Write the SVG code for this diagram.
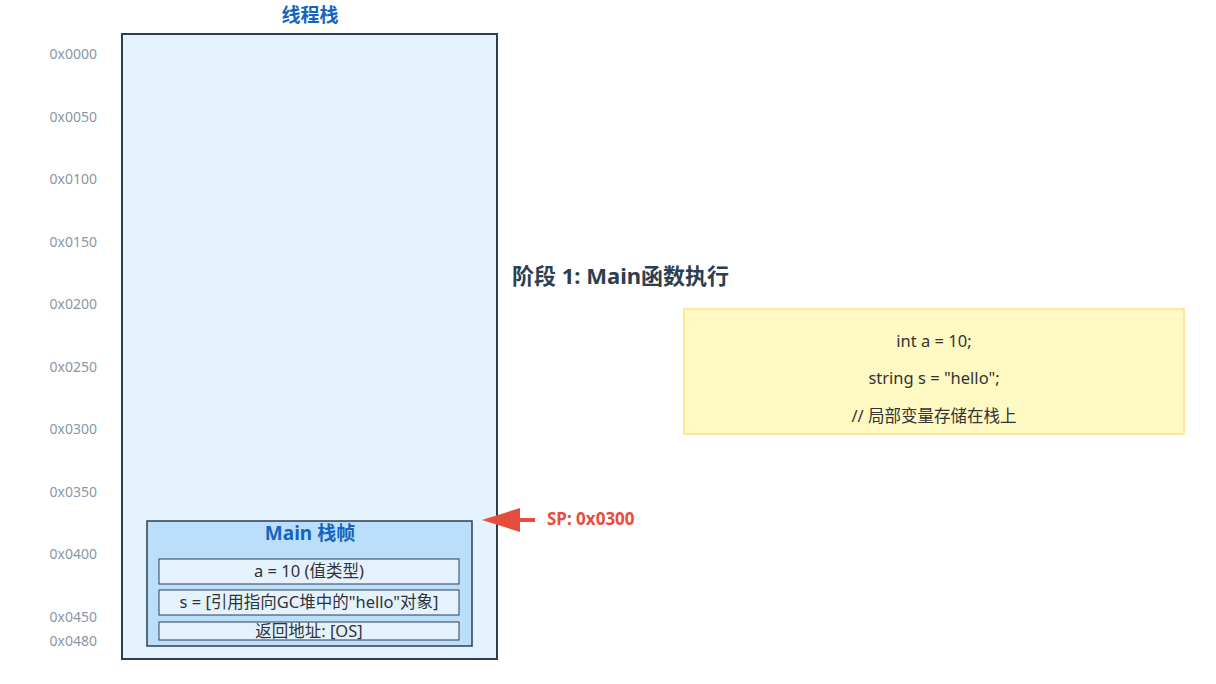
<svg xmlns="http://www.w3.org/2000/svg" width="1216" height="684" viewBox="0 0 1216 684">
<style>
text{font-family:"Noto Sans","Noto Sans CJK SC",sans-serif}
.addr{font-size:14px;fill:#8a97a6;text-anchor:end}
.title{font-size:19px;font-weight:bold;fill:#1565c0;text-anchor:middle}
.cell{fill:#e3f2fd;stroke:#2c3e50;stroke-width:1}
.ct{font-size:16.5px;fill:#333;text-anchor:middle}
.code{font-size:16.5px;fill:#333;text-anchor:middle}
</style>
<rect width="1216" height="684" fill="#ffffff"/>
<g id="addresses">
<text class="addr" x="97" y="59">0x0000</text>
<text class="addr" x="97" y="122">0x0050</text>
<text class="addr" x="97" y="184">0x0100</text>
<text class="addr" x="97" y="247">0x0150</text>
<text class="addr" x="97" y="309">0x0200</text>
<text class="addr" x="97" y="372">0x0250</text>
<text class="addr" x="97" y="434">0x0300</text>
<text class="addr" x="97" y="497">0x0350</text>
<text class="addr" x="97" y="559">0x0400</text>
<text class="addr" x="97" y="622">0x0450</text>
<text class="addr" x="97" y="646">0x0480</text>
</g>
<g id="thread-stack">
<text class="title" x="310" y="22">线程栈</text>
<rect x="122" y="34" width="375" height="625" fill="#e3f2fd" stroke="#2c3e50" stroke-width="2"/>
</g>
<g id="main-frame">
<rect x="147" y="521" width="325" height="125" fill="#bbdefb" stroke="#2c3e50" stroke-width="1.5"/>
<text class="title" x="310" y="540">Main 栈帧</text>
<rect class="cell" x="159" y="559" width="300" height="25"/>
<text class="ct" x="309" y="577">a = 10 (值类型)</text>
<rect class="cell" x="159" y="590" width="300" height="25"/>
<text class="ct" x="309" y="608">s = [引用指向GC堆中的"hello"对象]</text>
<rect class="cell" x="159" y="622" width="300" height="18"/>
<text class="ct" x="309" y="637">返回地址: [OS]</text>
</g>
<g id="connectors">
<line x1="520" y1="520" x2="535" y2="520" stroke="#e74c3c" stroke-width="4"/>
<polygon points="482,520 520,508 520,532" fill="#e74c3c"/>
</g>
<g id="sp-label">
<text x="547" y="525" font-size="17" font-weight="bold" fill="#e74c3c">SP: 0x0300</text>
</g>
<g id="phase-title">
<text x="512" y="284" font-size="22" font-weight="bold" fill="#2c3e50">阶段 1: Main函数执行</text>
</g>
<g id="code-box">
<rect x="684" y="309" width="500" height="125" fill="#fff9c4" stroke="#ffe082" stroke-width="1.5"/>
<text class="code" x="934" y="347">int a = 10;</text>
<text class="code" x="934" y="384">string s = "hello";</text>
<text class="code" x="934" y="422">// 局部变量存储在栈上</text>
</g>
</svg>
